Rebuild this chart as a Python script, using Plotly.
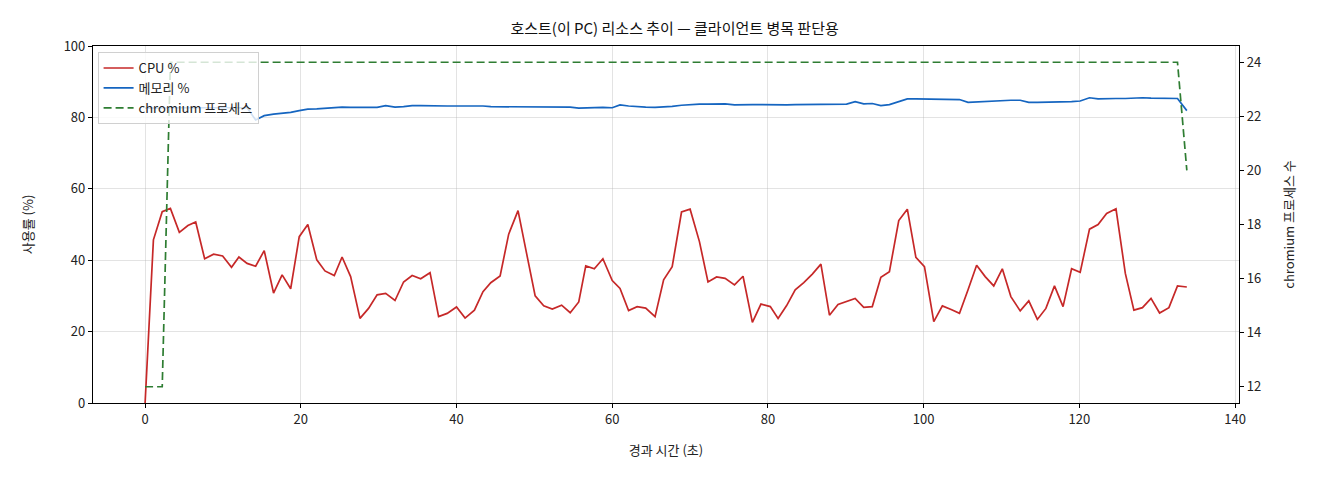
import plotly.graph_objects as go

# elapsed time (s) for each sample
elapsed = [
    0, 1.07, 2.2, 3.25, 4.4, 5.5, 6.5, 7.65, 8.8, 9.96,
    11.1, 12.05, 13.1, 14.2, 15.3, 16.5, 17.6, 18.7, 19.8, 20.9,
    22.05, 23.1, 24.3, 25.3, 26.4, 27.6, 28.7, 29.8, 30.9, 32.1,
    33.2, 34.3, 35.4, 36.6, 37.7, 38.8, 40.0, 41.1, 42.3, 43.4,
    44.4, 45.6, 46.7, 47.9, 49.0, 50.1, 51.2, 52.3, 53.5, 54.6,
    55.7, 56.6, 57.7, 58.8, 60.0, 61.0, 62.1, 63.2, 64.3, 65.5,
    66.6, 67.7, 68.9, 70.0, 71.2, 72.3, 73.4, 74.5, 75.7, 76.8,
    78.0, 79.1, 80.3, 81.3, 82.4, 83.5, 84.6, 85.7, 86.8, 87.9,
    89.0, 90.1, 91.2, 92.3, 93.4, 94.5, 95.6, 96.8, 97.9, 99.0,
    100.1, 101.3, 102.4, 103.6, 104.6, 105.7, 106.8, 107.9, 109.0, 110.1,
    111.2, 112.4, 113.5, 114.6, 115.7, 116.8, 117.9, 119.0, 120.1, 121.3,
    122.4, 123.5, 124.7, 125.9, 127.0, 128.1, 129.2, 130.3, 131.5, 132.6,
    133.8,
]

cpu = [
    0, 45.7, 53.6, 54.5, 47.8, 49.7, 50.7, 40.4, 41.7, 41.2,
    38.0, 40.9, 39.1, 38.3, 42.7, 30.8, 35.9, 32.0, 46.6, 50.0,
    40.1, 37.0, 35.7, 40.9, 35.4, 23.7, 26.5, 30.3, 30.7, 28.7,
    33.9, 35.7, 34.8, 36.5, 24.2, 25.1, 26.9, 23.8, 26.0, 31.2,
    33.7, 35.6, 47.3, 53.9, 41.9, 30.0, 27.2, 26.3, 27.4, 25.3,
    28.3, 38.4, 37.6, 40.4, 34.3, 32.1, 25.9, 27.0, 26.6, 24.2,
    34.5, 38.2, 53.5, 54.3, 45.2, 33.9, 35.3, 34.9, 33.1, 35.5,
    22.6, 27.7, 27.0, 23.7, 27.3, 31.7, 33.7, 36.1, 38.9, 24.6,
    27.6, 28.4, 29.3, 26.8, 27.0, 35.2, 36.8, 51.1, 54.3, 40.8,
    38.2, 22.8, 27.2, 26.1, 25.1, 31.7, 38.6, 35.4, 32.8, 37.6,
    29.8, 25.8, 28.6, 23.4, 26.5, 32.8, 27.0, 37.6, 36.6, 48.7,
    50.0, 53.1, 54.4, 36.3, 26.0, 26.7, 29.3, 25.2, 26.7, 32.8,
    32.5,
]

memory = [
    82.6, 82.7, 82.7, 82.7, 82.7, 82.7, 82.7, 82.7, 82.7, 82.7,
    82.7, 82.7, 82.7, 79.3, 80.5, 80.9, 81.1, 81.4, 81.9, 82.3,
    82.4, 82.6, 82.7, 82.9, 82.8, 82.8, 82.8, 82.8, 83.3, 82.9,
    83.0, 83.3, 83.3, 83.2, 83.2, 83.2, 83.2, 83.2, 83.3, 83.2,
    83.0, 83.0, 83.0, 83.0, 82.9, 82.9, 82.9, 82.9, 82.9, 82.9,
    82.6, 82.7, 82.7, 82.8, 82.7, 83.5, 83.2, 83.0, 82.9, 82.8,
    82.9, 83.1, 83.4, 83.6, 83.7, 83.7, 83.7, 83.8, 83.5, 83.6,
    83.6, 83.6, 83.5, 83.5, 83.5, 83.6, 83.6, 83.6, 83.6, 83.6,
    83.6, 83.7, 84.4, 83.8, 83.9, 83.3, 83.6, 84.4, 85.2, 85.2,
    85.2, 85.2, 85.2, 85.1, 85.0, 84.2, 84.3, 84.6, 84.6, 84.7,
    84.8, 84.8, 84.2, 84.2, 84.2, 84.3, 84.3, 84.4, 84.6, 85.5,
    85.2, 85.3, 85.3, 85.3, 85.5, 85.5, 85.4, 85.4, 85.4, 85.3,
    81.9,
]

chromium = [
    12, 12, 12, 24, 24, 24, 24, 24, 24, 24,
    24, 24, 24, 24, 24, 24, 24, 24, 24, 24,
    24, 24, 24, 24, 24, 24, 24, 24, 24, 24,
    24, 24, 24, 24, 24, 24, 24, 24, 24, 24,
    24, 24, 24, 24, 24, 24, 24, 24, 24, 24,
    24, 24, 24, 24, 24, 24, 24, 24, 24, 24,
    24, 24, 24, 24, 24, 24, 24, 24, 24, 24,
    24, 24, 24, 24, 24, 24, 24, 24, 24, 24,
    24, 24, 24, 24, 24, 24, 24, 24, 24, 24,
    24, 24, 24, 24, 24, 24, 24, 24, 24, 24,
    24, 24, 24, 24, 24, 24, 24, 24, 24, 24,
    24, 24, 24, 24, 24, 24, 24, 24, 24, 24,
    20,
]

FONT = "Noto Sans CJK KR, DejaVu Sans, sans-serif"

fig = go.Figure()
fig.add_trace(go.Scatter(x=elapsed, y=cpu, mode="lines", name="CPU %",
                         line=dict(color="#c62828", width=1.7)))
fig.add_trace(go.Scatter(x=elapsed, y=memory, mode="lines", name="메모리 %",
                         line=dict(color="#1565c0", width=1.7)))
fig.add_trace(go.Scatter(x=elapsed, y=chromium, mode="lines", name="chromium 프로세스",
                         yaxis="y2",
                         line=dict(color="#2e7d32", width=1.7, dash="8px,4px")))

grid = "rgba(176,176,176,0.35)"
# page body adds ~8px offset, margins compensate
fig.update_layout(
    width=1320, height=480,
    paper_bgcolor="white", plot_bgcolor="white",
    font=dict(family=FONT, size=13, color="#222"),
    margin=dict(l=85, r=89, t=38, b=85),
    title=dict(text="호스트(이 PC) 리소스 추이 — 클라이언트 병목 판단용",
               x=0.505, xanchor="center", y=0.957, yanchor="middle",
               font=dict(size=15, color="#111")),
    xaxis=dict(title=dict(text="경과 시간 (초)", font=dict(size=13), standoff=19),
               range=[-6.69, 140.5], tickvals=[0, 20, 40, 60, 80, 100, 120, 140],
               showgrid=True, gridcolor=grid, zeroline=False,
               showline=True, linecolor="black", linewidth=1.2, mirror=True,
               ticks="outside", ticklen=4, tickcolor="black"),
    yaxis=dict(title=dict(text="사용률 (%)", font=dict(size=13), standoff=27),
               range=[0, 100], tickvals=[0, 20, 40, 60, 80, 100],
               showgrid=True, gridcolor=grid, zeroline=False,
               showline=True, linecolor="black", linewidth=1.2,
               ticks="outside", ticklen=4, tickcolor="black"),
    yaxis2=dict(title=dict(text="chromium 프로세스 수", font=dict(size=13), standoff=24),
                overlaying="y", side="right",
                range=[11.4, 24.6], tickvals=[12, 14, 16, 18, 20, 22, 24],
                showgrid=False, zeroline=False,
                showline=True, linecolor="black", linewidth=1.2,
                ticks="outside", ticklen=4, tickcolor="black"),
    legend=dict(x=0.004, y=0.983, xanchor="left", yanchor="top",
                bgcolor="rgba(255,255,255,0.8)", bordercolor="#d0d0d0",
                borderwidth=1, font=dict(size=13), tracegroupgap=0),
    showlegend=True,
)

fig.write_html("out.html")
